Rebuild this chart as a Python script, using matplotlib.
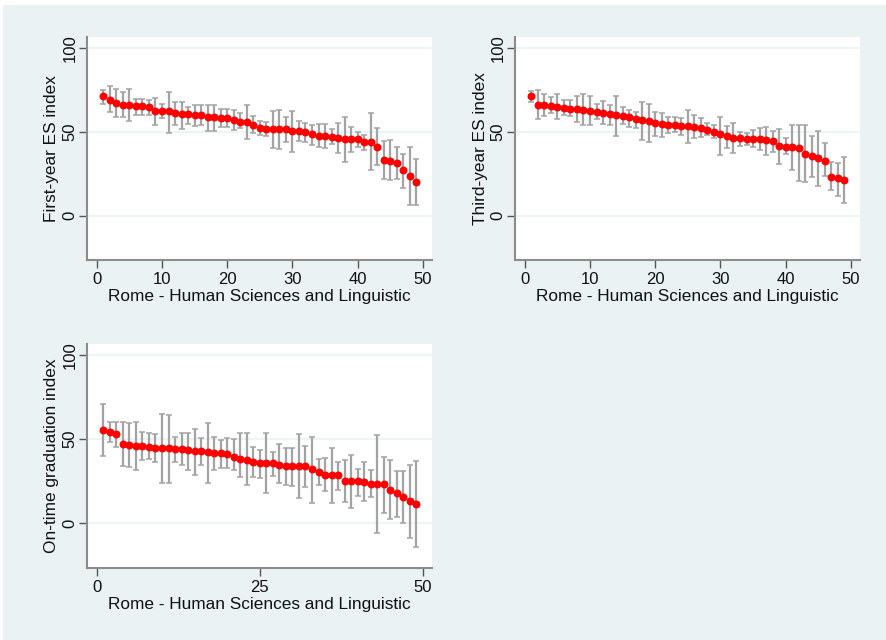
#Ranked ES / graduation indices with confidence bars, three Stata-style panels
import matplotlib.pyplot as plt
from matplotlib.patches import Rectangle
import numpy as np

plt.rcParams['font.family'] = ['Liberation Sans', 'DejaVu Sans']

#Rank position of each course (1..49)
rank = list(range(1, 50))
xlab = "Rome - Human Sciences and Linguistic"

#First-year ES index: point estimate, upper and lower bound
first_val = [71.1, 69.2, 67.2, 66.0, 65.8, 65.2, 65.2, 64.8, 62.5, 62.3,
             62.1, 61.3, 60.3, 60.3, 60.1, 60.1, 58.9, 58.5, 58.1, 58.1,
             56.9, 56.1, 55.7, 54.3, 52.0, 51.8, 51.8, 51.8, 51.4, 50.4,
             50.4, 49.6, 48.4, 47.6, 47.6, 47.0, 46.0, 45.7, 45.5, 45.5,
             44.0, 44.0, 41.0, 33.2, 32.8, 31.2, 26.9, 23.7, 20.2]
first_hi = [74.7, 77.1, 75.7, 73.7, 75.3, 69.8, 69.8, 69.2, 70.4, 66.4,
            73.5, 67.6, 67.8, 64.8, 65.8, 65.8, 65.8, 65.8, 63.8, 63.8,
            62.8, 61.3, 65.8, 59.3, 56.5, 55.9, 62.5, 63.2, 58.9, 62.5,
            56.5, 55.5, 54.0, 54.5, 54.5, 51.4, 55.3, 58.9, 53.0, 50.0,
            48.0, 60.9, 52.0, 44.7, 45.0, 40.7, 36.8, 40.7, 33.6]
first_lo = [66.8, 61.9, 58.9, 58.9, 56.5, 59.9, 59.9, 59.9, 54.0, 57.9,
            49.4, 54.0, 51.4, 54.9, 53.4, 54.0, 50.4, 50.4, 53.0, 53.0,
            51.0, 52.0, 45.5, 49.0, 48.0, 47.6, 40.1, 39.7, 44.0, 38.1,
            44.7, 44.0, 42.0, 40.7, 40.1, 42.7, 37.2, 32.2, 38.1, 41.0,
            39.0, 26.9, 30.2, 21.7, 21.3, 21.7, 16.4, 6.5, 6.5]

#Third-year ES index
third_val = [71.1, 66.2, 65.8, 65.4, 64.8, 64.4, 63.8, 63.4, 63.2, 62.5,
             61.5, 60.9, 60.3, 59.7, 59.3, 58.5, 57.5, 56.9, 56.5, 55.5,
             54.9, 54.3, 54.0, 53.4, 53.2, 53.0, 52.0, 51.0, 50.0, 48.6,
             47.6, 46.4, 46.0, 45.7, 45.7, 45.5, 45.0, 44.7, 41.7, 41.1,
             40.7, 40.1, 36.8, 35.6, 34.6, 32.6, 23.3, 22.3, 21.3]
third_hi = [74.3, 74.7, 72.3, 70.8, 72.7, 69.2, 68.8, 71.1, 72.7, 71.1,
            66.8, 68.4, 65.8, 71.3, 64.8, 63.2, 62.0, 67.8, 66.8, 62.0,
            60.9, 58.9, 58.9, 57.9, 63.2, 59.9, 57.9, 55.0, 54.0, 58.9,
            53.4, 55.3, 50.0, 49.0, 51.0, 52.0, 53.0, 50.6, 51.4, 46.0,
            54.0, 54.0, 54.0, 47.4, 50.6, 43.0, 32.2, 31.2, 34.8]
third_lo = [67.8, 57.3, 59.3, 60.9, 57.3, 59.9, 59.3, 55.9, 54.0, 54.0,
            57.3, 54.9, 54.0, 47.6, 54.9, 53.0, 52.0, 45.0, 44.0, 47.6,
            47.0, 49.0, 50.0, 48.0, 43.0, 46.0, 47.0, 48.0, 46.0, 36.2,
            40.1, 37.2, 41.5, 42.0, 40.7, 39.0, 36.2, 38.0, 30.8, 37.0,
            27.3, 20.4, 19.8, 23.3, 17.8, 23.7, 15.4, 11.9, 7.5]

#On-time graduation index
grad_val = [55.3, 54.3, 52.8, 47.4, 46.4, 46.0, 45.8, 45.5, 44.9, 44.5,
            44.5, 44.3, 43.9, 43.5, 43.1, 42.9, 42.3, 41.9, 41.5, 41.1,
            39.5, 38.5, 37.9, 36.6, 36.0, 36.0, 35.6, 34.6, 34.0, 34.0,
            34.0, 34.0, 32.0, 30.6, 28.7, 28.7, 28.7, 25.3, 25.1, 25.1,
            24.7, 23.3, 23.1, 23.1, 19.8, 17.8, 15.8, 13.4, 11.5]
grad_hi = [70.8, 60.3, 60.3, 60.3, 59.3, 60.3, 54.3, 53.4, 53.0, 65.2,
           64.2, 51.4, 53.4, 53.8, 56.3, 50.4, 59.3, 51.4, 49.4, 50.4,
           49.8, 53.8, 53.8, 45.5, 43.5, 53.4, 42.5, 47.0, 44.5, 44.5,
           53.0, 45.8, 51.4, 38.5, 39.1, 44.5, 36.6, 37.5, 40.5, 32.0,
           36.6, 31.6, 52.4, 39.5, 37.9, 31.2, 31.2, 34.6, 37.2]
grad_lo = [39.9, 48.4, 45.5, 34.0, 33.2, 31.6, 37.5, 38.5, 36.6, 24.1,
           24.1, 36.6, 34.6, 31.6, 28.7, 34.6, 24.1, 31.6, 32.6, 32.6,
           31.6, 27.7, 22.7, 27.7, 26.7, 18.2, 28.1, 23.7, 22.7, 22.1,
           14.8, 21.7, 12.3, 22.7, 19.4, 11.9, 19.8, 12.8, 8.9, 16.2,
           13.4, 15.4, -5.9, 5.9, 2.4, 3.6, 0.4, -8.9, -13.8]

bg = '#eaf2f3'

fig = plt.figure(figsize=(8.87, 6.4), dpi=100)
fig.patch.set_facecolor('white')
fig.patches.append(Rectangle((3/887, 0), 1, 635/640, transform=fig.transFigure,
                             facecolor=bg, edgecolor='none', zorder=-10))

#axes boxes in figure fractions
boxes = [(87/887, 1-260/640, 345/887, 223/640),
         (515/887, 1-260/640, 345/887, 223/640),
         (87/887, 1-568/640, 345/887, 224/640)]
panels = [(first_val, first_hi, first_lo, "First-year ES index", [0, 10, 20, 30, 40, 50]),
          (third_val, third_hi, third_lo, "Third-year ES index", [0, 10, 20, 30, 40, 50]),
          (grad_val, grad_hi, grad_lo, "On-time graduation index", [0, 25, 50])]

for box, (val, hi, lo, ylab, xt) in zip(boxes, panels):
    ax = fig.add_axes(box)
    ax.set_facecolor('white')
    val = np.array(val)
    err = [val - np.array(lo), np.array(hi) - val]
    ax.errorbar(rank, val, yerr=err, fmt='none', ecolor='#a3a3a3',
                elinewidth=1.6, capsize=2.2, capthick=1.1, zorder=2)
    ax.plot(rank, val, 'o', color='red', ms=4.7, mec='red', zorder=3)

    ax.set_xlim(-1.5, 51.4)
    ax.set_ylim(-26.5, 106.5)
    ax.set_xticks(xt)
    ax.set_yticks([0, 50, 100])
    ax.yaxis.grid(True, color=bg, lw=1.2)
    ax.set_axisbelow(True)

    for s in ['top', 'right']:
        ax.spines[s].set_visible(False)
    for s in ['left', 'bottom']:
        ax.spines[s].set_color('#8c8c8c')
        ax.spines[s].set_linewidth(1.5)

    ax.tick_params(direction='out', length=5.5, width=1, color='#555555',
                   labelsize=12, labelcolor='#111111')
    ax.tick_params(axis='x', pad=3.5)
    ax.tick_params(axis='y', pad=1.5, labelrotation=90)
    for t in ax.get_yticklabels():
        t.set_va('center')

    ax.set_xlabel(xlab, fontsize=12.4, color='#111111', labelpad=1)
    ax.set_ylabel(ylab, fontsize=12.4, color='#111111', labelpad=2)

fig.savefig('out.png', dpi=100, facecolor=fig.get_facecolor())
